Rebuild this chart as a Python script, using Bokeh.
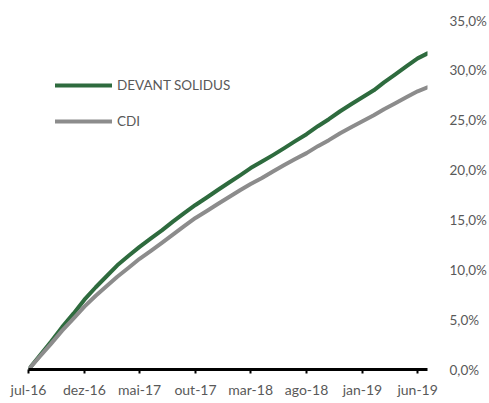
import pandas as pd
from bokeh.plotting import figure
from bokeh.models import FixedTicker, Range1d, Legend, LegendItem
from bokeh.embed import file_html
from bokeh.resources import INLINE

# ---- data -------------------------------------------------------------
dates = list(pd.date_range("2016-07-01", "2019-06-01", freq="MS")) + [pd.Timestamp("2019-06-28")]
devant = [0.0, 1.4, 2.8, 4.25, 5.6, 7.0, 8.25, 9.4, 10.45, 11.4, 12.3, 13.15,
          13.95, 14.85, 15.7, 16.5, 17.25, 18.0, 18.75, 19.5, 20.2, 20.85, 21.5, 22.2,
          22.9, 23.6, 24.4, 25.1, 25.9, 26.6, 27.3, 28.0, 28.8, 29.6, 30.4, 31.2, 31.7]
cdi = [0.0, 1.3, 2.6, 3.9, 5.1, 6.3, 7.4, 8.4, 9.3, 10.2, 11.1, 11.9,
       12.7, 13.55, 14.4, 15.2, 15.9, 16.6, 17.3, 18.0, 18.6, 19.2, 19.85, 20.5,
       21.1, 21.7, 22.4, 23.0, 23.7, 24.3, 24.9, 25.5, 26.1, 26.7, 27.3, 27.9, 28.3]
series_names = ["DEVANT SOLIDUS", "CDI"]
x_tick_dates = ["2016-07-01", "2016-12-01", "2017-05-01", "2017-10-01",
                "2018-03-01", "2018-08-01", "2019-01-01", "2019-06-01"]
x_tick_labels = ["jul-16", "dez-16", "mai-17", "out-17", "mar-18", "ago-18", "jan-19", "jun-19"]
y_ticks = [0, 5, 10, 15, 20, 25, 30, 35]
y_tick_labels = ["0,0%", "5,0%", "10,0%", "15,0%", "20,0%", "25,0%", "30,0%", "35,0%"]

GREEN = "#2E6B3E"
GRAY = "#8C8C8C"
TXT = "#595959"
FONT = "Lato"

p = figure(width=489, height=400, x_axis_type="datetime", y_axis_location="right",
           output_backend="svg", toolbar_location=None,
           min_border_left=28, min_border_top=20, min_border_bottom=28, min_border_right=60)
p.x_range = Range1d(dates[0], dates[-1])
p.y_range = Range1d(0, 35)

r1 = p.line(dates, devant, line_color=GREEN, line_width=4, line_cap="round", line_join="round")
r2 = p.line(dates, cdi, line_color=GRAY, line_width=4, line_cap="round", line_join="round")

p.grid.visible = False
p.outline_line_color = None
p.background_fill_color = "white"
p.border_fill_color = "white"

# x axis
xt_ms = [pd.Timestamp(d).value / 1e6 for d in x_tick_dates]
xa = p.xaxis[0]
xa.ticker = FixedTicker(ticks=xt_ms)
xa.major_label_overrides = {v: l for v, l in zip(xt_ms, x_tick_labels)}
xa.axis_line_color = "black"
xa.axis_line_width = 3
xa.major_tick_line_color = "black"
xa.major_tick_line_width = 2
xa.major_tick_out = 4
xa.major_tick_in = 0
xa.minor_tick_line_color = None
xa.major_label_text_color = TXT
xa.major_label_text_font = FONT
xa.major_label_text_font_size = "14px"
xa.major_label_standoff = 7

# y axis
ya = p.yaxis[0]
ya.ticker = FixedTicker(ticks=y_ticks)
ya.major_label_overrides = {v: l for v, l in zip(y_ticks, y_tick_labels)}
ya.axis_line_color = None
ya.major_tick_line_color = None
ya.minor_tick_line_color = None
ya.major_label_text_color = TXT
ya.major_label_text_font = FONT
ya.major_label_text_font_size = "13.5px"
ya.major_label_standoff = 16

legend = Legend(items=[LegendItem(label=series_names[0], renderers=[r1]),
                       LegendItem(label=series_names[1], renderers=[r2])],
                location=(27, 238), orientation="vertical")
legend.background_fill_alpha = 0
legend.border_line_color = None
legend.padding = 0
legend.margin = 0
legend.spacing = 16
legend.glyph_width = 57
legend.glyph_height = 20
legend.label_height = 20
legend.label_standoff = 5
legend.label_text_color = TXT
legend.label_text_font = FONT
legend.label_text_font_size = "13.5px"
p.add_layout(legend, "center")

open("out.html", "w").write(file_html(p, INLINE))
